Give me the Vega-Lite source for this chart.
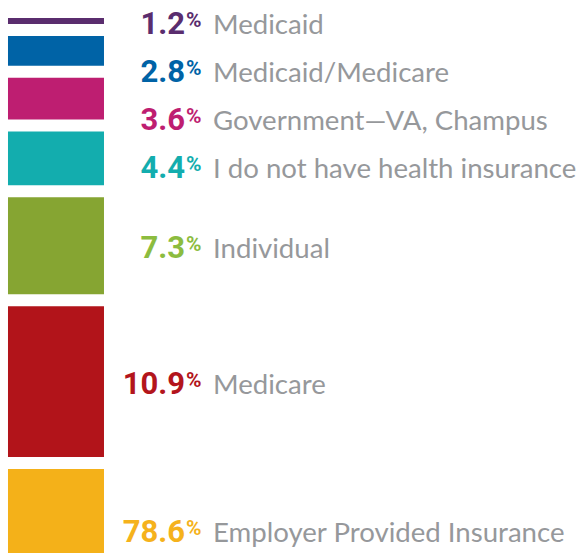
{
  "$schema": "https://vega.github.io/schema/vega-lite/v6.json",
  "width": 579,
  "height": 553,
  "autosize": "none",
  "padding": 0,
  "background": "white",
  "config": {"view": {"stroke": null}},
  "data": {
    "values": [
      {"order": 1, "category": "Medicaid", "pct": 1.2},
      {"order": 2, "category": "Medicaid/Medicare", "pct": 2.8},
      {"order": 3, "category": "Government—VA, Champus", "pct": 3.6},
      {"order": 4, "category": "I do not have health insurance", "pct": 4.4},
      {"order": 5, "category": "Individual", "pct": 7.3},
      {"order": 6, "category": "Medicare", "pct": 10.9},
      {"order": 7, "category": "Employer Provided Insurance", "pct": 78.6}
    ]
  },
  "transform": [
    {"stack": "pct", "groupby": [], "sort": [{"field": "order", "order": "ascending"}], "as": ["v0", "v1"]}
  ],
  "resolve": {"scale": {"y": "independent", "color": "independent"}},
  "layer": [
    {
      "mark": {"type": "bar", "clip": true, "yOffset": 6, "y2Offset": -6},
      "encoding": {
        "x": {"datum": 1.38, "type": "quantitative", "scale": {"domain": [0, 100]}, "axis": null},
        "x2": {"datum": 17.96},
        "y": {"field": "v0", "type": "quantitative", "scale": {"domain": [-0.81, 36.23], "range": [0, 553], "zero": false, "nice": false}, "axis": null},
        "y2": {"field": "v1"},
        "color": {
          "field": "category", "type": "nominal", "legend": null,
          "scale": {
            "domain": ["Medicaid", "Medicaid/Medicare", "Government—VA, Champus", "I do not have health insurance", "Individual", "Medicare", "Employer Provided Insurance"],
            "range": ["#5A2D6E", "#0063A6", "#BE1E71", "#13ADAE", "#86A532", "#B2141A", "#F4B119"]
          }
        }
      }
    },
    {
      "transform": [
        {"filter": "datum.pct < 5"}
      ],
      "encoding": {
        "y": {"field": "order", "type": "quantitative", "scale": {"domain": [0.5417, 12.0625], "range": [0, 553], "zero": false, "nice": false}, "axis": null}
      },
      "layer": [
        {
          "mark": {"type": "text", "align": "right", "baseline": "alphabetic", "dy": 12, "font": "Roboto", "fontWeight": "bold", "fontSize": 31},
          "encoding": {
            "x": {"datum": 31.95, "type": "quantitative", "scale": {"domain": [0, 100]}, "axis": null},
            "text": {"field": "pct", "type": "quantitative", "format": ".1f"},
            "color": {
              "field": "category", "type": "nominal", "legend": null,
              "scale": {
                "domain": ["Medicaid", "Medicaid/Medicare", "Government—VA, Champus", "I do not have health insurance", "Individual", "Medicare", "Employer Provided Insurance"],
                "range": ["#5A2D6E", "#0063A6", "#BE1E71", "#13ADAE", "#8CBC3F", "#B3151C", "#F5B21C"]
              }
            }
          }
        },
        {
          "mark": {"type": "text", "align": "left", "baseline": "alphabetic", "dy": 5, "dx": 1, "font": "Roboto", "fontWeight": "bold", "fontSize": 21, "text": "%"},
          "encoding": {
            "x": {"datum": 31.95, "type": "quantitative", "scale": {"domain": [0, 100]}, "axis": null},
            "color": {"field": "category", "type": "nominal", "legend": null}
          }
        },
        {
          "mark": {"type": "text", "align": "left", "baseline": "alphabetic", "dy": 12, "font": "Lato", "fontSize": 27.6, "color": "#96989B"},
          "encoding": {
            "x": {"datum": 36.79, "type": "quantitative", "scale": {"domain": [0, 100]}, "axis": null},
            "text": {"field": "category", "type": "nominal"}
          }
        }
      ]
    },
    {
      "transform": [
        {"filter": "datum.pct >= 5"},
        {"fold": ["v0", "v1"], "as": ["edge", "pos"]},
        {"aggregate": [{"op": "mean", "field": "pos", "as": "mid"}], "groupby": ["order", "category", "pct"]}
      ],
      "encoding": {
        "y": {"field": "mid", "type": "quantitative", "scale": {"domain": [-0.81, 34.69], "range": [0, 530], "zero": false, "nice": false, "clamp": true}, "axis": null}
      },
      "layer": [
        {
          "mark": {"type": "text", "align": "right", "baseline": "alphabetic", "dy": 12, "font": "Roboto", "fontWeight": "bold", "fontSize": 31},
          "encoding": {
            "x": {"datum": 31.95, "type": "quantitative", "scale": {"domain": [0, 100]}, "axis": null},
            "text": {"field": "pct", "type": "quantitative", "format": ".1f"},
            "color": {
              "field": "category", "type": "nominal", "legend": null,
              "scale": {
                "domain": ["Medicaid", "Medicaid/Medicare", "Government—VA, Champus", "I do not have health insurance", "Individual", "Medicare", "Employer Provided Insurance"],
                "range": ["#5A2D6E", "#0063A6", "#BE1E71", "#13ADAE", "#8CBC3F", "#B3151C", "#F5B21C"]
              }
            }
          }
        },
        {
          "mark": {"type": "text", "align": "left", "baseline": "alphabetic", "dy": 5, "dx": 1, "font": "Roboto", "fontWeight": "bold", "fontSize": 21, "text": "%"},
          "encoding": {
            "x": {"datum": 31.95, "type": "quantitative", "scale": {"domain": [0, 100]}, "axis": null},
            "color": {"field": "category", "type": "nominal", "legend": null}
          }
        },
        {
          "mark": {"type": "text", "align": "left", "baseline": "alphabetic", "dy": 12, "font": "Lato", "fontSize": 27.6, "color": "#96989B"},
          "encoding": {
            "x": {"datum": 36.79, "type": "quantitative", "scale": {"domain": [0, 100]}, "axis": null},
            "text": {"field": "category", "type": "nominal"}
          }
        }
      ]
    }
  ]
}
